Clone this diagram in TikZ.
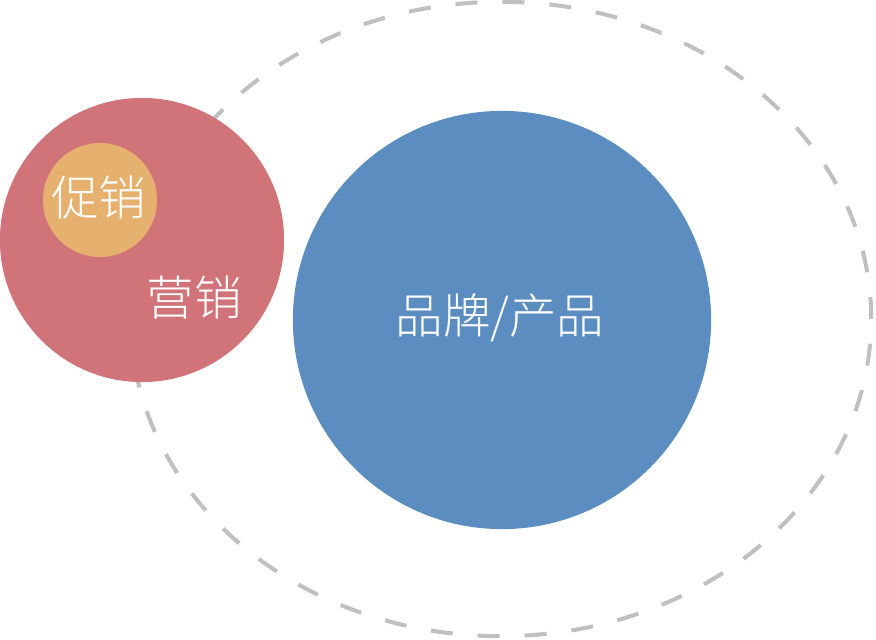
\documentclass[tikz,border=0pt]{standalone}
\usepackage{fontspec}
\newfontfamily\cjk{Noto Sans CJK SC Light}
\usepackage{tikz}
\usetikzlibrary{shapes.geometric}

\definecolor{ringgray}{RGB}{192,192,192}
\definecolor{marketred}{RGB}{208,116,122}
\definecolor{promoorange}{RGB}{230,176,110}
\definecolor{brandblue}{RGB}{91,141,193}

\tikzset{
    blob/.style={circle, inner sep=0pt, draw=none},
    tag/.style={text=white, font=\cjk\fontsize{13.5pt}{16pt}\selectfont, inner sep=0pt},
    ring/.style={ellipse, draw=ringgray, line width=1.15pt, dash pattern=on 0.22cm off 0.25cm, inner sep=0pt}
}

\begin{document}
\begin{tikzpicture}[x=0.01cm, y=-0.01cm]
        \useasboundingbox (0,0) rectangle (876,640);

        % Define node styles
        \node [ring, minimum width=7.40cm, minimum height=6.34cm] (scope) at (501,319) {};
        \node [blob, fill=marketred, minimum size=2.84cm] (market) at (142,240) {};
        \node [blob, fill=promoorange, minimum size=1.14cm] (promo) at (100,200) {};
        \node [blob, fill=brandblue, minimum size=4.18cm] (brand) at (502,320) {};

        % Labels
        \node [tag] (promotext) at (99,198) {促销};
        \node [tag] (markettext) at (194,298) {营销};
        \node [tag] (brandtext) at (500,318) {品牌/产品};
    \end{tikzpicture}
\end{document}
